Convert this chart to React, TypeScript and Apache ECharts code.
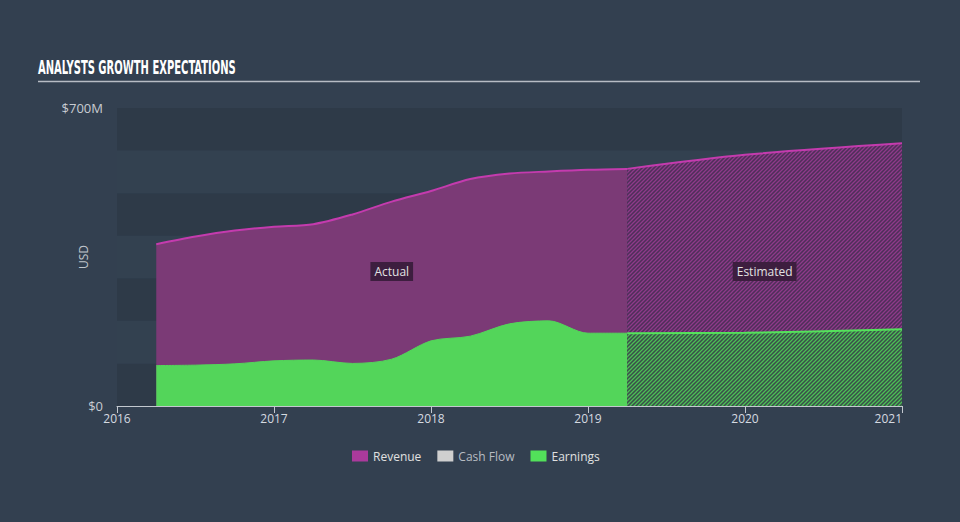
import React, { useEffect, useRef } from "react";
import * as echarts from "echarts";

// ---- Data (values in $M) ----
const yearTicks = [2016, 2017, 2018, 2019, 2020, 2021];
const actualDates = [2016.25, 2016.5, 2016.75, 2017, 2017.25, 2017.5, 2017.75, 2018, 2018.25, 2018.5, 2018.75, 2019, 2019.25];
const revenueActual = [380, 398, 412, 421, 427, 450, 480, 505, 533, 546, 551, 555, 557];
const earningsActual = [95, 96, 99, 106, 108, 100, 110, 153, 164, 193, 200, 171, 171];
const estimateDates = [2019.25, 2020, 2021];
const revenueEstimate = [557, 590, 617];
const earningsEstimate = [171, 172, 180];
const yLabelTicks = [0, 700];
const legendNames = ["Revenue", "Cash Flow", "Earnings"];
const regionLabels = ["Actual", "Estimated"];
const regionLabelValue = 316;

const TITLE = "ANALYSTS GROWTH EXPECTATIONS";

function makePattern(bg: string, fg: string) {
  const s = 4;
  const c = document.createElement("canvas");
  c.width = s;
  c.height = s;
  const ctx = c.getContext("2d")!;
  ctx.fillStyle = bg;
  ctx.fillRect(0, 0, s, s);
  ctx.strokeStyle = fg;
  ctx.lineWidth = 1.3;
  ctx.beginPath();
  ctx.moveTo(-1, 1);
  ctx.lineTo(1, -1);
  ctx.moveTo(0, s);
  ctx.lineTo(s, 0);
  ctx.moveTo(s - 1, s + 1);
  ctx.lineTo(s + 1, s - 1);
  ctx.stroke();
  return { image: c, repeat: "repeat", imageWidth: s, imageHeight: s } as any;
}

function measure(text: string, font: string) {
  const c = document.createElement("canvas");
  const ctx = c.getContext("2d")!;
  ctx.font = font;
  return ctx.measureText(text).width;
}

export default function App() {
  const ref = useRef<HTMLDivElement>(null);

  useEffect(() => {
    if (!ref.current) return;
    const chart = echarts.init(ref.current, undefined, { renderer: "svg" });

    const titleFont = '700 19px "DejaVu Sans Condensed", Roboto, sans-serif';
    const tw = measure(TITLE, titleFont) || 198;
    const titleScale = 198 / tw;

    const zip = (xs: number[], ys: number[]) => xs.map((x, i) => [x, ys[i]]);
    const actualMid = (actualDates[0] + actualDates[actualDates.length - 1]) / 2;
    const estMid = (estimateDates[0] + estimateDates[estimateDates.length - 1]) / 2;

    const baseFont = '"Open Sans", sans-serif';
    const regionLabelStyle = {
      show: true,
      position: "inside",
      color: "#e2e2e2",
      fontSize: 12,
      fontFamily: baseFont,
      backgroundColor: "#3d1e3f",
      padding: [4, 4, 3, 4],
      formatter: (p: any) => p.name,
    };

    const revColor = "#c43bae";
    const revFill = "#7b3a76";
    const earnColor = "#53d55a";

    const option: any = {
      animation: false,
      backgroundColor: "#334050",
      textStyle: { fontFamily: baseFont },
      grid: { left: 117, right: 58, top: 108, bottom: 116, containLabel: false },
      graphic: [
        {
          type: "text",
          x: 38,
          y: 68,
          scaleX: titleScale,
          style: {
            text: TITLE,
            font: titleFont,
            fill: "#ffffff",
            align: "left",
            verticalAlign: "middle",
          },
        },
        {
          type: "line",
          shape: { x1: 38, y1: 81.5, x2: 920, y2: 81.5 },
          style: { stroke: "#b7bcc4", lineWidth: 1.5 },
        },
      ],
      legend: {
        left: 347,
        top: 445,
        icon: "rect",
        itemWidth: 16,
        itemHeight: 11,
        itemGap: 16,
        textStyle: { color: "#e0e0e0", fontSize: 12, fontFamily: baseFont },
        data: [
          { name: legendNames[0], itemStyle: { color: "#ab3a9c" } },
          { name: legendNames[1], itemStyle: { color: "#cfcfcf" }, textStyle: { color: "#b8bcc2" } },
          { name: legendNames[2], itemStyle: { color: "#52e05a" } },
        ],
      },
      xAxis: {
        type: "value",
        min: yearTicks[0],
        max: yearTicks[yearTicks.length - 1],
        interval: 1,
        axisLine: { show: true, lineStyle: { color: "#c3c8cf", width: 1 } },
        axisTick: { show: true, length: 7, lineStyle: { color: "#c3c8cf" } },
        axisLabel: {
          color: "#d5dae0",
          fontSize: 12,
          margin: 6,
          alignMaxLabel: "right",
          formatter: (v: number) => String(v),
        },
        splitLine: { show: false },
      },
      yAxis: {
        type: "value",
        min: 0,
        max: 700,
        interval: 100,
        name: "USD",
        nameLocation: "middle",
        nameGap: 28,
        nameMoveOverlap: false,
        nameTextStyle: { color: "#c0c6cc", fontSize: 12 },
        axisLine: { show: false },
        axisTick: { show: false },
        axisLabel: {
          color: "#c8ccd2",
          fontSize: 13,
          margin: 14,
          formatter: (v: number) =>
            yLabelTicks.includes(v) ? (v === 0 ? "$0" : "$" + v + "M") : "",
        },
        splitLine: { show: false },
        splitArea: { show: true, areaStyle: { color: ["#2e3a48", "#334150"] } },
      },
      series: [
        {
          name: "Revenue",
          type: "line",
          data: zip(actualDates, revenueActual),
          smooth: 0.3,
          showSymbol: false,
          color: "#ab3a9c",
          lineStyle: { color: revColor, width: 2 },
          areaStyle: { color: revFill, opacity: 1 },
          z: 2,
          markPoint: {
            symbol: "circle",
            symbolSize: 1,
            itemStyle: { color: "rgba(0,0,0,0)" },
            label: regionLabelStyle,
            data: [
              { name: regionLabels[0], coord: [actualMid, regionLabelValue] },
              { name: regionLabels[1], coord: [estMid, regionLabelValue] },
            ],
          },
        },
        {
          name: "Revenue",
          type: "line",
          data: zip(estimateDates, revenueEstimate),
          smooth: 0.3,
          showSymbol: false,
          color: "#ab3a9c",
          lineStyle: { color: revColor, width: 2 },
          areaStyle: { color: makePattern("#4e2f59", "#8f3a8a"), opacity: 1 },
          z: 2,
        },
        {
          name: "Cash Flow",
          type: "line",
          data: [],
          color: "#cfcfcf",
        },
        {
          name: "Earnings",
          type: "line",
          data: zip(actualDates, earningsActual),
          smooth: 0.3,
          showSymbol: false,
          color: "#52e05a",
          lineStyle: { color: earnColor, width: 1 },
          areaStyle: { color: earnColor, opacity: 1 },
          z: 3,
        },
        {
          name: "Earnings",
          type: "line",
          data: zip(estimateDates, earningsEstimate),
          smooth: 0.3,
          showSymbol: false,
          color: "#52e05a",
          lineStyle: { color: "#55e25c", width: 2 },
          areaStyle: { color: makePattern("#3a4e4a", "#4cbf55"), opacity: 1 },
          z: 3,
        },
      ],
    };

    chart.setOption(option);
    return () => chart.dispose();
  }, []);

  return (
    <div
      ref={ref}
      style={{ position: "fixed", left: 0, top: 0, width: 960, height: 522, background: "#334050" }}
    />
  );
}
